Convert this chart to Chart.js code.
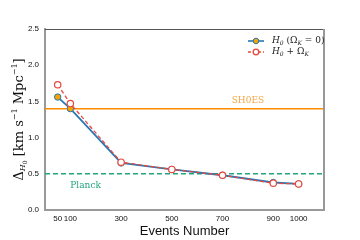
<!DOCTYPE html>
<html lang="en">
<head>
  <meta charset="UTF-8">
  <title>Delta H0 vs events</title>
  <script src="https://cdn.jsdelivr.net/npm/chart.js"></script>
  <style>
    html, body { margin: 0; padding: 0; background: #fff; }
    #wrap { width: 360px; height: 240px; }
  </style>
</head>
<body>
  <div id="wrap"><canvas id="chart" width="360" height="240"></canvas></div>
  <script>
    const events = [50, 100, 300, 500, 700, 900, 1000];
    const h0Flat = [1.56, 1.40, 0.65, 0.56, 0.48, 0.38, 0.36];   // H0 (Omega_K = 0)
    const h0Curv = [1.73, 1.47, 0.66, 0.56, 0.48, 0.37, 0.36];   // H0 + Omega_K
    const sh0es = 1.40;
    const planck = 0.50;
    const xTicks = [50, 100, 300, 500, 700, 900, 1000];
    const yTicks = [0, 0.5, 1.0, 1.5, 2.0, 2.5];

    const pts = (ys) => events.map((x, i) => ({ x: x, y: ys[i] }));

    const BLUE = '#2878b5', RED = '#e8483d', ORANGE = '#ff8c00', GREEN = '#22a67f';

    // draws frame, reference labels, legend and axis titles
    const decor = {
      id: 'decor',
      afterDraw(chart) {
        const ctx = chart.ctx, a = chart.chartArea;
        const xs = chart.scales.x, ys = chart.scales.y;
        ctx.save();
        // top + right spines
        ctx.strokeStyle = '#555'; ctx.lineWidth = 1;
        ctx.beginPath(); ctx.moveTo(a.left, a.top + 0.5); ctx.lineTo(a.right, a.top + 0.5); ctx.stroke();
        ctx.strokeStyle = '#999'; ctx.lineWidth = 2;
        ctx.beginPath(); ctx.moveTo(a.right, a.top); ctx.lineTo(a.right, a.bottom); ctx.stroke();

        // reference labels
        ctx.font = '9px "DejaVu Serif", "Liberation Serif", serif';
        ctx.textAlign = 'center'; ctx.textBaseline = 'bottom';
        ctx.fillStyle = '#f6a544';
        ctx.fillText('SH0ES', xs.getPixelForValue(800), ys.getPixelForValue(sh0es) - 3);
        ctx.fillStyle = GREEN;
        ctx.textBaseline = 'top';
        ctx.fillText('Planck', xs.getPixelForValue(160), ys.getPixelForValue(planck) + 7);

        // legend
        const lx = 248, rows = [41, 52];
        ctx.lineWidth = 1.6;
        ctx.strokeStyle = BLUE; ctx.setLineDash([]);
        ctx.beginPath(); ctx.moveTo(lx, rows[0]); ctx.lineTo(lx + 16, rows[0]); ctx.stroke();
        ctx.fillStyle = '#f5a300'; ctx.lineWidth = 1;
        ctx.beginPath(); ctx.arc(lx + 8, rows[0], 2.8, 0, Math.PI * 2); ctx.fill(); ctx.stroke();
        ctx.strokeStyle = RED; ctx.lineWidth = 1.3; ctx.setLineDash([3, 2]);
        ctx.beginPath(); ctx.moveTo(lx, rows[1]); ctx.lineTo(lx + 16, rows[1]); ctx.stroke();
        ctx.setLineDash([]); ctx.fillStyle = '#fff';
        ctx.beginPath(); ctx.arc(lx + 8, rows[1], 2.8, 0, Math.PI * 2); ctx.fill(); ctx.stroke();

        const big = 'italic 9px "DejaVu Serif", "Liberation Serif", serif';
        const sub = 'italic 6px "DejaVu Serif", "Liberation Serif", serif';
        const up = '9px "DejaVu Serif", "Liberation Serif", serif';
        function runs(x, y, parts) {
          ctx.fillStyle = '#222'; ctx.textAlign = 'left'; ctx.textBaseline = 'middle';
          parts.forEach(p => {
            ctx.font = p[1];
            ctx.fillText(p[0], x, y + (p[2] || 0));
            x += ctx.measureText(p[0]).width;
          });
        }
        runs(272, rows[0], [['H', big], ['0', sub, 2], [' (', up], ['Ω', up], ['K', sub, 2], [' = 0)', up]]);
        runs(272, rows[1], [['H', big], ['0', sub, 2], [' + ', up], ['Ω', up], ['K', sub, 2]]);

        // axis titles
        ctx.fillStyle = '#111';
        ctx.font = '13px "Liberation Sans", Arial, sans-serif';
        ctx.textAlign = 'center'; ctx.textBaseline = 'alphabetic';
        ctx.fillText('Events Number', (a.left + a.right) / 2, 235);

        ctx.translate(20, (a.top + a.bottom) / 2);
        ctx.rotate(-Math.PI / 2);
        const serif = '13px "DejaVu Serif", "Liberation Serif", serif';
        const small = '8px "DejaVu Serif", "Liberation Serif", serif';
        const smallI = 'italic 8px "DejaVu Serif", "Liberation Serif", serif';
        const tiny = '6px "DejaVu Serif", "Liberation Serif", serif';
        const title = [['Δ', serif, 0], ['H', smallI, 3], ['0', tiny, 5], [' [km s', serif, 0], ['−1', small, -5],
                       [' Mpc', serif, 0], ['−1', small, -5], [']', serif, 0]];
        let w = 0;
        title.forEach(p => { ctx.font = p[1]; w += ctx.measureText(p[0]).width; });
        let x = -w / 2;
        ctx.textAlign = 'left'; ctx.textBaseline = 'middle';
        title.forEach(p => {
          ctx.font = p[1];
          ctx.fillText(p[0], x, p[2]);
          x += ctx.measureText(p[0]).width;
        });
        ctx.restore();
      }
    };

    new Chart(document.getElementById('chart'), {
      type: 'line',
      data: {
        datasets: [
          {
            label: 'SH0ES', order: 4,
            data: [{ x: 0, y: sh0es }, { x: 1100, y: sh0es }],
            borderColor: ORANGE, borderWidth: 1.5, pointRadius: 0
          },
          {
            label: 'Planck', order: 3,
            data: [{ x: 0, y: planck }, { x: 1100, y: planck }],
            borderColor: GREEN, borderWidth: 1.5, borderDash: [5, 3], pointRadius: 0
          },
          {
            label: 'H0 (ΩK = 0)', order: 2,
            data: pts(h0Flat),
            borderColor: BLUE, borderWidth: 1.8,
            pointBackgroundColor: '#f5a300', pointBorderColor: BLUE,
            pointBorderWidth: 1, pointRadius: 3.2
          },
          {
            label: 'H0 + ΩK', order: 1,
            data: pts(h0Curv),
            borderColor: RED, borderWidth: 1.3, borderDash: [4, 2.5],
            pointBackgroundColor: '#fff', pointBorderColor: RED,
            pointBorderWidth: 1.2, pointRadius: 3.2
          }
        ]
      },
      options: {
        responsive: false,
        animation: false,
        layout: { padding: { left: 0, right: 36, top: 29, bottom: 0 } },
        plugins: { legend: { display: false }, tooltip: { enabled: false } },
        scales: {
          x: {
            type: 'linear', min: 0, max: 1100,
            afterBuildTicks: (s) => { s.ticks = xTicks.map(v => ({ value: v })); },
            afterFit: (s) => { s.height = 30; },
            grid: { display: false, drawTicks: true, tickLength: 3, tickColor: '#555' },
            border: { color: '#999', width: 2 },
            ticks: { color: '#111', font: { size: 8, family: '"Liberation Sans", Arial, sans-serif' }, padding: 1, maxRotation: 0, autoSkip: false,
                     callback: (v) => String(v) }
          },
          y: {
            min: 0, max: 2.5,
            afterBuildTicks: (s) => { s.ticks = yTicks.map(v => ({ value: v })); },
            afterFit: (s) => { s.width = 45; },
            grid: { display: false, drawTicks: true, tickLength: 3, tickColor: '#555' },
            border: { color: '#999', width: 2 },
            ticks: { color: '#111', font: { size: 8, family: '"Liberation Sans", Arial, sans-serif' }, padding: 3,
                     callback: (v) => v.toFixed(1) }
          }
        }
      },
      plugins: [decor]
    });
  </script>
</body>
</html>
